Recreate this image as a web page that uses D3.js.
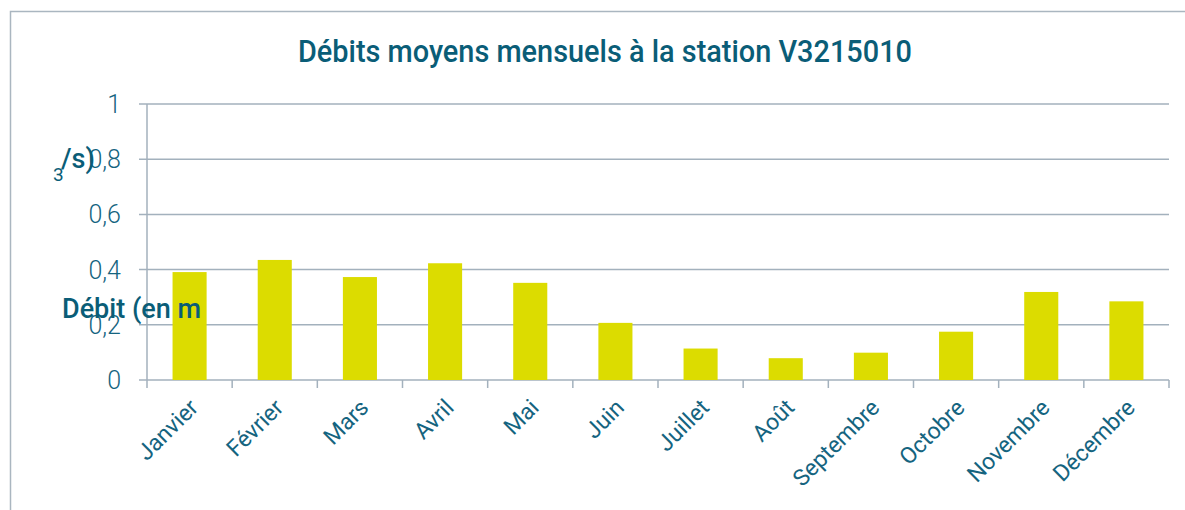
<!DOCTYPE html>
<html>
<head>
<meta charset="utf-8">
<script src="https://cdn.jsdelivr.net/npm/d3@7"></script>
<style>
  html, body { margin: 0; padding: 0; background: #fff; }
  svg { display: block; }
</style>
</head>
<body>
<svg id="chart" width="1185" height="510"></svg>
<script>
// Monthly mean discharge at station V3215010 (m³/s)
const months = ["Janvier", "Février", "Mars", "Avril", "Mai", "Juin",
                "Juillet", "Août", "Septembre", "Octobre", "Novembre", "Décembre"];
const debits = [0.391, 0.435, 0.373, 0.423, 0.352, 0.207,
                0.114, 0.079, 0.099, 0.175, 0.319, 0.285];
const yTicks = [0, 0.2, 0.4, 0.6, 0.8, 1];
const yTickLabels = ["0", "0,2", "0,4", "0,6", "0,8", "1"];

const teal = "#0a5d77";
const tickText = "#15647f";
const gridColor = "#a3b1bd";
const barColor = "#dcdc00";
const condensed = "Roboto, 'Liberation Sans', sans-serif";

const svg = d3.select("#chart");

// outer frame
svg.append("rect")
  .attr("x", 10.5).attr("y", 11.5)
  .attr("width", 1200).attr("height", 520)
  .attr("fill", "none").attr("stroke", "#aab6c0").attr("stroke-width", 1.5);

const plot = { left: 147, right: 1169, top: 104, bottom: 380 };

const x = d3.scaleBand().domain(months).range([plot.left, plot.right]).paddingInner(0.6).paddingOuter(0.3);
const xEdges = d3.scaleLinear().domain([0, months.length]).range([plot.left, plot.right]);
const y = d3.scaleLinear().domain([0, 1]).range([plot.bottom, plot.top]);

// title
svg.append("text")
  .attr("x", 605).attr("y", 62)
  .attr("text-anchor", "middle")
  .attr("font-family", condensed)
  .attr("font-weight", 500)
  .attr("font-size", 32)
  .attr("fill", teal)
  .attr("textLength", 614).attr("lengthAdjust", "spacingAndGlyphs")
  .text("Débits moyens mensuels à la station V3215010");

// horizontal gridlines with left tick stubs
svg.append("g").selectAll("line").data(yTicks).join("line")
  .attr("x1", plot.left - 8).attr("x2", plot.right)
  .attr("y1", d => y(d)).attr("y2", d => y(d))
  .attr("stroke", gridColor).attr("stroke-width", 1.5);

// y tick labels
svg.append("g").selectAll("text").data(yTicks).join("text")
  .attr("x", 121).attr("y", d => y(d) + 9)
  .attr("text-anchor", "end")
  .attr("font-family", "Roboto, 'Open Sans', sans-serif")
  .attr("font-weight", 300)
  .attr("font-size", 25)
  .attr("fill", tickText)
  .text((d, i) => yTickLabels[i]);

// bars
svg.append("g").selectAll("rect").data(debits).join("rect")
  .attr("x", (d, i) => x(months[i]))
  .attr("width", x.bandwidth())
  .attr("y", d => y(d))
  .attr("height", d => y(0) - y(d))
  .attr("fill", barColor);

// vertical axis line
svg.append("line")
  .attr("x1", plot.left).attr("x2", plot.left)
  .attr("y1", plot.top).attr("y2", plot.bottom + 8)
  .attr("stroke", gridColor).attr("stroke-width", 1.5);

// category boundary ticks
svg.append("g").selectAll("line").data(d3.range(1, months.length + 1)).join("line")
  .attr("x1", d => xEdges(d)).attr("x2", d => xEdges(d))
  .attr("y1", plot.bottom).attr("y2", plot.bottom + 8)
  .attr("stroke", gridColor).attr("stroke-width", 1.5);

// month labels, rotated
svg.append("g").selectAll("text").data(months).join("text")
  .attr("transform", d => `translate(${x(d) + x.bandwidth() / 2 + 10},${plot.bottom + 29}) rotate(-45)`)
  .attr("text-anchor", "end")
  .attr("font-family", "Roboto, 'Open Sans', sans-serif")
  .attr("font-weight", 400)
  .attr("font-size", 23)
  .attr("fill", tickText)
  .text(d => d);

// y axis title pieces
const axisTitle = svg.append("g")
  .attr("font-family", condensed)
  .attr("font-weight", 500)
  .attr("fill", teal);
axisTitle.append("text")
  .attr("x", 62).attr("y", 318)
  .attr("font-size", 27)
  .attr("textLength", 139).attr("lengthAdjust", "spacingAndGlyphs")
  .text("Débit (en m");
axisTitle.append("text")
  .attr("x", 53).attr("y", 181)
  .attr("font-size", 19)
  .attr("font-weight", 400)
  .text("3");
axisTitle.append("text")
  .attr("x", 61).attr("y", 168)
  .attr("font-size", 27)
  .text("/s)");
</script>
</body>
</html>
